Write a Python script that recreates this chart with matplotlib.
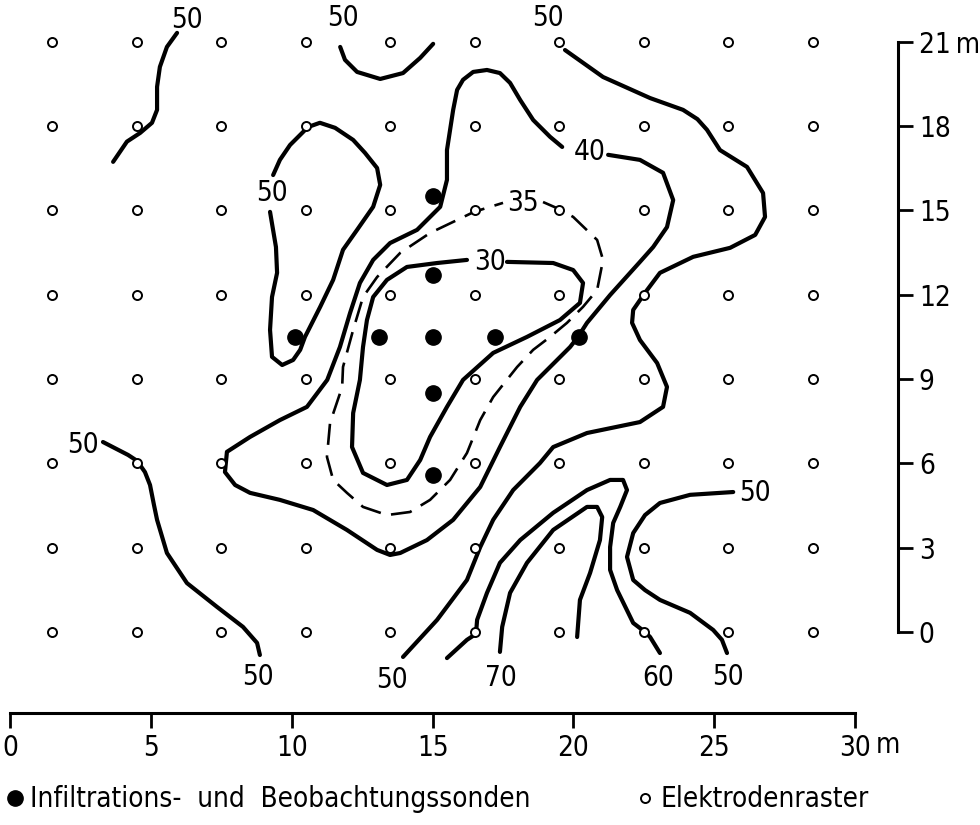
import matplotlib
matplotlib.use('Agg')
import matplotlib.pyplot as plt
from matplotlib import font_manager
from matplotlib.lines import Line2D

# Schrift: moeglichst schmale Schrift waehlen (Normschrift im Original)
fonts = font_manager.fontManager.ttflist
if any(f.name == 'Liberation Sans Narrow' for f in fonts):
    plt.rcParams['font.family'] = ['Liberation Sans Narrow', 'DejaVu Sans']
    fs = 21
elif any(f.name == 'DejaVu Sans' and str(f.stretch) == 'condensed' for f in fonts):
    plt.rcParams['font.family'] = ['DejaVu Sans']
    plt.rcParams['font.stretch'] = 'condensed'
    fs = 20
else:
    plt.rcParams['font.family'] = ['Liberation Sans', 'DejaVu Sans']
    fs = 19

# ---------------- Daten (Meter) ----------------
# Elektrodenraster
grid_x = [1.5, 4.5, 7.5, 10.5, 13.5, 16.5, 19.5, 22.5, 25.5, 28.5]
grid_y = [0, 3, 6, 9, 12, 15, 18, 21]

# Infiltrations- und Beobachtungssonden
probe_x = [15.0, 15.0, 10.1, 13.1, 15.0, 17.2, 20.2, 15.0, 15.0]
probe_y = [15.5, 12.7, 10.5, 10.5, 10.5, 10.5, 10.5, 8.5, 5.6]

# Isolinien (nachgezeichnet)
iso50_nw_x = [5.93, 5.57, 5.32, 5.22, 5.22, 5.04, 4.62, 4.15, 3.66]
iso50_nw_y = [21.32, 20.82, 20.11, 19.40, 18.58, 18.12, 17.76, 17.45, 16.73]

iso50_n_x = [11.72, 11.89, 12.32, 13.14, 13.95, 14.56, 15.02]
iso50_n_y = [20.82, 20.36, 19.93, 19.68, 19.89, 20.43, 20.93]

iso50_ne_x = [19.70, 21.05, 22.72, 23.89, 24.40, 24.74, 25.20, 26.16, 26.73, 26.80, 26.45,
              25.56, 24.25, 23.07, 22.54, 22.12, 22.08, 22.36, 22.97, 23.32, 23.18,
              22.36, 20.48, 19.28, 18.81, 17.86, 17.15, 16.69, 16.22, 15.16, 13.95]
iso50_ne_y = [20.71, 19.75, 19.00, 18.58, 18.25, 17.87, 17.15, 16.55, 15.62, 14.77, 14.13,
              13.67, 13.35, 12.78, 12.07, 11.46, 11.00, 10.39, 9.57, 8.72, 8.01,
              7.47, 7.08, 6.58, 6.01, 5.05, 3.99, 3.02, 1.85, 0.43, -0.89]

iso50_loop_x = [9.23, 9.44, 9.48, 9.30, 9.23, 9.30, 9.66, 10.05, 10.30, 10.47,
                11.01, 11.47, 11.82, 12.32, 12.89, 13.14, 13.03, 12.60, 12.18, 11.54,
                11.00, 10.58, 10.37, 9.94, 9.58, 9.34]
iso50_loop_y = [14.95, 13.70, 12.78, 11.92, 10.75, 9.79, 9.50, 9.68, 10.04, 10.50,
                11.57, 12.53, 13.60, 14.31, 15.13, 15.91, 16.51, 17.05, 17.51, 17.94,
                18.12, 17.97, 17.76, 17.33, 16.80, 16.26]

iso50_sw_x = [3.30, 4.19, 4.51, 4.79, 4.97, 5.11, 5.22, 5.57, 6.28, 7.35, 8.27, 8.77, 8.87]
iso50_sw_y = [6.76, 6.30, 6.09, 5.69, 5.23, 4.52, 3.99, 2.81, 1.74, 0.89, 0.18, -0.39, -0.82]

iso50_se_x = [25.67, 24.14, 23.07, 22.54, 22.12, 21.90, 22.12, 22.54, 23.07, 24.14,
              24.96, 25.27, 25.45]
iso50_se_y = [4.98, 4.88, 4.59, 4.16, 3.52, 2.67, 1.85, 1.49, 1.14, 0.68,
              0.07, -0.28, -0.75]

iso40_x = [21.23, 22.36, 23.18, 23.54, 23.32, 22.83, 22.36, 21.30, 20.48, 20.16,
           19.88, 18.71, 18.11, 17.39, 16.69, 15.73, 14.80, 13.85, 13.49, 13.03,
           11.96, 10.76, 9.58, 8.52, 7.99, 7.63, 7.70, 8.52, 9.58, 10.54,
           11.26, 11.71, 12.07, 12.42, 12.89, 13.49, 14.45, 15.27, 15.51, 15.51,
           15.73, 15.87, 16.08, 16.44, 16.93, 17.39, 17.75, 18.11, 18.57, 19.17, 19.60]
iso40_y = [16.98, 16.80, 16.34, 15.37, 14.41, 13.70, 13.17, 11.99, 11.00, 10.50,
           10.14, 8.97, 8.01, 6.58, 5.16, 3.99, 3.27, 2.81, 2.74, 2.92,
           3.63, 4.34, 4.70, 4.95, 5.23, 5.69, 6.41, 6.94, 7.54, 8.01,
           8.97, 10.14, 11.35, 12.42, 13.24, 13.84, 14.31, 15.13, 16.09, 17.15,
           18.58, 19.29, 19.65, 19.93, 20.00, 19.89, 19.54, 18.93, 18.22, 17.62, 17.26]

iso35_x = [18.92, 19.56, 19.99, 20.84, 21.05, 20.84, 20.34, 19.77, 19.17, 18.57,
           18.00, 17.15, 16.69, 16.22, 15.62, 14.91, 14.20, 13.38, 12.53, 11.96,
           11.47, 11.25, 11.36, 11.79, 11.82, 12.18, 12.53, 13.03, 13.85, 14.91,
           15.87, 16.47, 17.50]
iso35_y = [15.30, 15.02, 14.77, 13.95, 13.24, 12.17, 11.57, 11.00, 10.50, 10.04,
           9.43, 8.36, 7.54, 6.37, 5.41, 4.70, 4.27, 4.16, 4.45, 4.95,
           5.41, 6.23, 7.44, 8.72, 9.43, 10.75, 11.92, 12.63, 13.49, 14.20,
           14.66, 14.95, 15.27]

iso30_x = [17.64, 19.28, 19.99, 20.34, 20.23, 19.52, 18.35, 17.15, 16.08, 15.51,
           14.91, 14.56, 14.09, 13.38, 12.53, 12.14, 12.18, 12.42, 12.53, 12.67,
           12.89, 13.38, 14.09, 15.16, 16.22]
iso30_y = [13.17, 13.13, 12.88, 12.42, 11.71, 11.10, 10.50, 9.93, 8.97, 8.01,
           6.94, 6.12, 5.41, 5.23, 5.66, 6.58, 7.79, 8.97, 10.14, 11.10,
           11.92, 12.53, 12.99, 13.13, 13.24]

iso70_x = [17.39, 17.47, 17.75, 18.35, 19.28, 20.48, 20.84, 21.02, 20.94, 20.59, 20.23, 20.13]
iso70_y = [-0.71, 0.18, 1.39, 2.46, 3.63, 4.45, 4.45, 4.09, 3.27, 2.10, 1.14, -0.18]

iso60_x = [15.51, 16.22, 16.54, 16.58, 16.93, 17.39, 18.11, 19.28, 20.48, 21.30,
           21.76, 21.90, 21.66, 21.41, 21.30, 21.30, 21.55, 22.12, 22.54, 22.72, 23.07]
iso60_y = [-0.93, -0.28, -0.07, 0.43, 1.39, 2.46, 3.27, 4.24, 5.05, 5.41,
           5.41, 5.05, 4.45, 3.88, 3.02, 2.21, 1.49, 0.32, 0.00, -0.18, -0.75]

# Beschriftung der Isolinien
label_text = ['50', '50', '50', '50', '50', '50', '50', '50', '50', '70', '60', '40', '35', '30']
label_x = [6.28, 11.82, 19.10, 9.30, 2.59, 8.80, 13.56, 26.45, 25.49, 17.43, 23.00, 20.59, 18.21, 17.04]
label_y = [21.78, 21.85, 21.85, 15.62, 6.66, -1.60, -1.71, 4.95, -1.60, -1.64, -1.64, 17.08, 15.27, 13.17]

x_ticks = [0, 5, 10, 15, 20, 25, 30]
y_ticks = [0, 3, 6, 9, 12, 15, 18, 21]
y_ticklabels = ['0', '3', '6', '9', '12', '15', '18', '21\u2009m']

# ---------------- Zeichnung ----------------
fig = plt.figure(figsize=(9.8, 8.25), dpi=100)
ax = fig.add_axes([0, 0, 1, 1])
ax.set_xlim(-0.355, 34.43)
ax.set_ylim(-6.87, 22.49)

solid = dict(color='black', lw=3.0, solid_capstyle='round', solid_joinstyle='round', zorder=2)
for xs, ys in [(iso50_nw_x, iso50_nw_y), (iso50_n_x, iso50_n_y), (iso50_ne_x, iso50_ne_y),
               (iso50_loop_x, iso50_loop_y), (iso50_sw_x, iso50_sw_y), (iso50_se_x, iso50_se_y),
               (iso40_x, iso40_y), (iso30_x, iso30_y), (iso70_x, iso70_y), (iso60_x, iso60_y)]:
    ax.plot(xs, ys, **solid)
ax.plot(iso35_x, iso35_y, color='black', lw=1.9, ls=(0, (8, 4)), zorder=2)

# Raster und Sonden
gx = [x for y in grid_y for x in grid_x]
gy = [y for y in grid_y for x in grid_x]
ax.plot(gx, gy, ls='none', marker='o', ms=6.5, mfc='white', mec='black', mew=1.4, zorder=3)
ax.plot(probe_x, probe_y, ls='none', marker='o', ms=11, color='black', zorder=4)

for t, x, y in zip(label_text, label_x, label_y):
    ax.text(x, y, t, fontsize=fs, ha='center', va='center', zorder=5)

# Achsen
for s in ['top', 'left']:
    ax.spines[s].set_visible(False)
ax.spines['bottom'].set_position(('data', -2.88))
ax.spines['bottom'].set_bounds(0, 30)
ax.spines['bottom'].set_linewidth(2.2)
ax.spines['right'].set_position(('data', 31.52))
ax.spines['right'].set_bounds(0, 21)
ax.spines['right'].set_linewidth(2.2)
ax.yaxis.tick_right()
ax.set_xticks(x_ticks)
ax.set_xticklabels([str(v) for v in x_ticks])
ax.set_yticks(y_ticks)
ax.set_yticklabels(y_ticklabels)
ax.tick_params(axis='x', direction='out', length=11, width=2, pad=4, labelsize=fs)
ax.tick_params(axis='y', direction='out', length=11, width=2, pad=4, labelsize=fs)
for lab in ax.get_yticklabels():
    lab.set_ha('left')
ax.text(31.15, -4.02, 'm', fontsize=fs, ha='center', va='center')

# Legende (zwei Teile, getrennt positioniert)
h_probe = Line2D([], [], ls='none', marker='o', ms=11, color='black')
h_grid = Line2D([], [], ls='none', marker='o', ms=6.5, mfc='white', mec='black', mew=1.4)
leg_kw = dict(loc='center left', frameon=False, fontsize=fs, handlelength=0.5,
              handletextpad=0.3, borderpad=0, borderaxespad=0)
fig.legend([h_probe], ['Infiltrations-  und  Beobachtungssonden'],
           bbox_to_anchor=(0.008, 0.031), **leg_kw)
fig.legend([h_grid], ['Elektrodenraster'], bbox_to_anchor=(0.651, 0.031), **leg_kw)

fig.savefig('out.png', dpi=100)
